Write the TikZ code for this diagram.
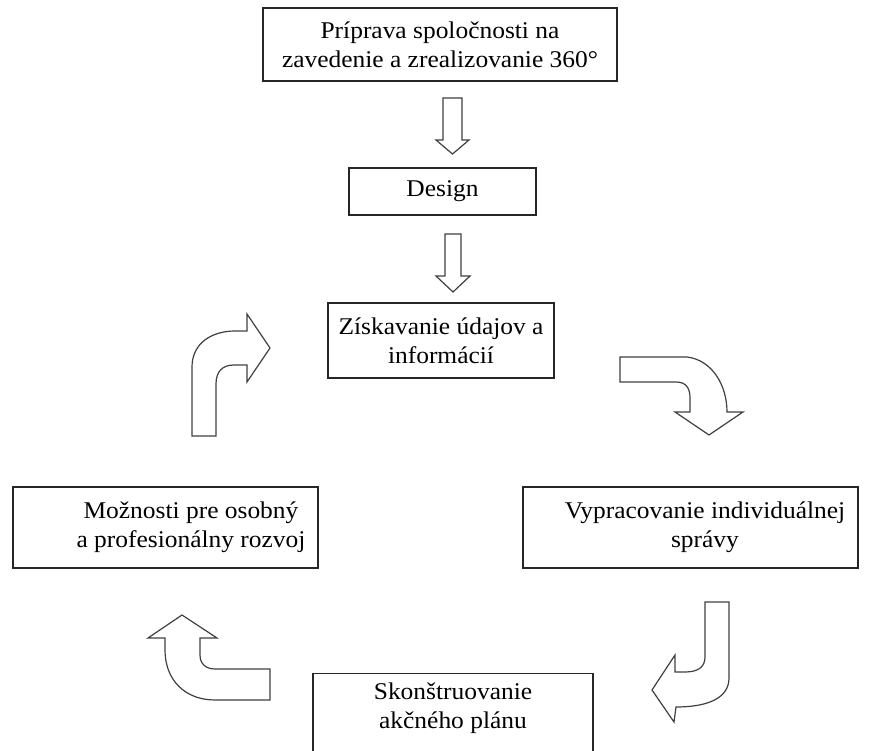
\documentclass[tikz,border=0pt]{standalone}
\usepackage{fontspec}
\setmainfont{Liberation Serif}[FakeStretch=1.06]
\begin{document}
\begin{tikzpicture}[x=1pt,y=-1pt,
  box/.style={draw=black!85, line width=1.4pt, fill=white, inner sep=0pt, align=center,
    font=\fontsize{24}{29}\selectfont},
  txt/.style={inner sep=0pt, align=center, font=\fontsize{24}{29}\selectfont},
  blockarrow/.style={draw=black!75, line width=1.2pt, fill=white, line join=miter}]
\useasboundingbox (0,0) rectangle (871,751);
\clip (0,0) rectangle (871,751);

% process boxes
\node[box, minimum width=354pt, minimum height=73pt] (prep) at (440,44.5)
  {Príprava spoločnosti na\\zavedenie a zrealizovanie 360°};
\node[box, minimum width=187pt, minimum height=47pt] (design) at (442.5,191.5) {Design};
\node[box, minimum width=226pt, minimum height=75pt] (data) at (441,340.5)
  {Získavanie údajov a\\informácií};
\node[box, minimum width=305pt, minimum height=81pt] (dev) at (165.5,527.5) {};
\node[txt] (devtext) at (191,527) {Možnosti pre osobný\\a profesionálny rozvoj};
\node[box, minimum width=335pt, minimum height=81pt] (report) at (690.5,527.5) {};
\node[txt] (reporttext) at (705,527) {Vypracovanie individuálnej\\správy};
\node[box, minimum width=280pt, minimum height=100pt, anchor=north] (plan) at (453,673) {};
\node[txt] (plantext) at (453,708) {Skonštruovanie\\akčného plánu};

% straight block arrows
\draw[blockarrow] (443,98) -- (462,98) -- (462,140) -- (469,140) -- (452.5,154)
  -- (436,140) -- (443,140) -- cycle;
\draw[blockarrow] (445,234) -- (461,234) -- (461,276) -- (470,276) -- (453,292)
  -- (436,276) -- (445,276) -- cycle;

% curved block arrows around the cycle
\draw[blockarrow] (192,436) -- (192,367) .. controls (192,343) and (212,331) .. (235,331)
  -- (247,331) -- (247,314) -- (270,348) -- (247,382) -- (247,365) -- (234,365)
  .. controls (222,365) and (216,372) .. (216,384) -- (216,436) -- cycle;
\draw[blockarrow] (620,357) -- (687,357) .. controls (712,360) and (727,385) .. (727,412)
  -- (743,412) -- (709,435) -- (675,412) -- (690,412) -- (690,398)
  .. controls (690,388) and (686,382) .. (676,382) -- (620,382) -- cycle;
\draw[blockarrow] (705,602) -- (729,602) -- (729,678) .. controls (729,698) and (708,707) .. (676,707)
  -- (674,722) -- (652,690) -- (675,655) -- (675,672) -- (685,672)
  .. controls (698,672) and (705,667) .. (705,657) -- cycle;
\draw[blockarrow] (270,669) -- (270,700) -- (215,700) .. controls (185,700) and (165,680) .. (165,650)
  -- (165,638) -- (148,638) -- (182,615) -- (217,638) -- (200,638) -- (200,655)
  .. controls (200,664) and (206,669) .. (215,669) -- cycle;
\end{tikzpicture}
\end{document}
